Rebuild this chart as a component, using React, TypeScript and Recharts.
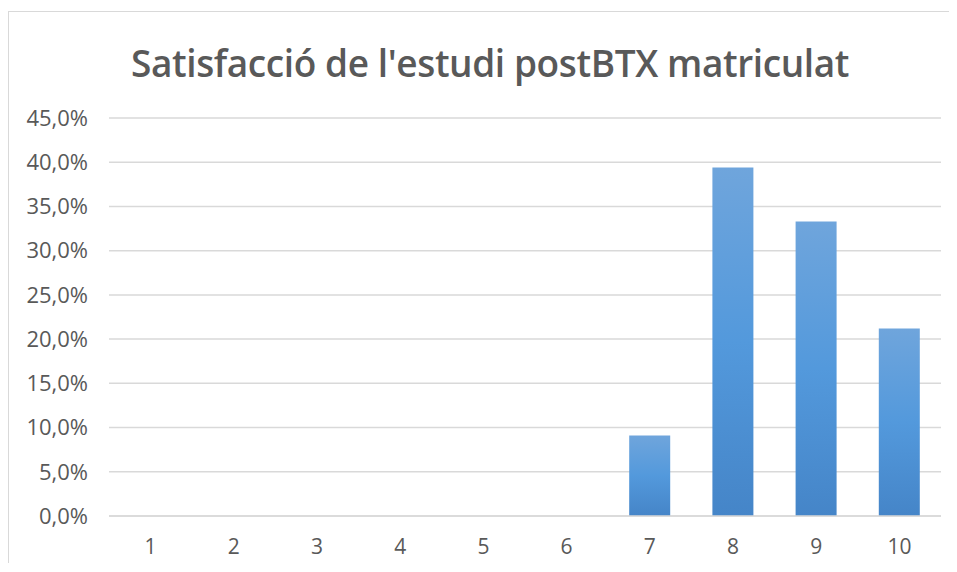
import { BarChart, Bar, XAxis, YAxis, CartesianGrid } from "recharts";

const categories = ["1", "2", "3", "4", "5", "6", "7", "8", "9", "10"];
const percentages = [0, 0, 0, 0, 0, 0, 9.1, 39.4, 33.3, 21.2];
const yTicks = [0, 5, 10, 15, 20, 25, 30, 35, 40, 45];
const title = "Satisfacció de l'estudi postBTX matriculat";

const data = categories.map((name, i) => ({ name, value: percentages[i] }));

const fmt = (v: number) => v.toFixed(1).replace(".", ",") + "%";

const App = () => {
  return (
    <div
      style={{
        position: "relative",
        marginTop: 3,
        width: 940,
        height: 552,
        borderLeft: "1px solid #d9d9d9",
        background: "#fff",
        fontFamily: "'Open Sans', sans-serif",
      }}
    >
      <style>{"html,body{overflow:hidden}"}</style>
      {/* top edge of the frame, running off the right side */}
      <div
        style={{
          position: "absolute",
          left: -1,
          top: 0,
          width: 960,
          height: 1,
          background: "#d9d9d9",
        }}
      />
      <svg width={0} height={0} style={{ position: "absolute" }}>
        <defs>
          <linearGradient id="barFill" x1="0" y1="0" x2="0" y2="1">
            <stop offset="0%" stopColor="#6fa5dc" />
            <stop offset="50%" stopColor="#5399dc" />
            <stop offset="100%" stopColor="#4585c8" />
          </linearGradient>
        </defs>
      </svg>
      <div
        style={{
          position: "absolute",
          left: 0,
          top: 26,
          width: 949,
          boxSizing: "border-box",
          paddingLeft: 13,
          textAlign: "center",
          fontSize: 37,
          fontWeight: 600,
          color: "#595959",
          letterSpacing: -0.4,
          whiteSpace: "nowrap",
        }}
      >
        {title}
      </div>
      <BarChart
        width={940}
        height={552}
        data={data}
        barSize={41}
        margin={{ top: 107, right: 8, bottom: 0, left: 20 }}
      >
        <CartesianGrid vertical={false} stroke="#d9d9d9" strokeWidth={1.5} />
        <XAxis
          dataKey="name"
          stroke="#d9d9d9"
          strokeWidth={1.5}
          tickLine={false}
          tickMargin={17}
          height={47}
          tick={{ fill: "#595959", fontSize: 21 }}
        />
        <YAxis
          ticks={yTicks}
          domain={[0, 45]}
          tickFormatter={fmt}
          axisLine={false}
          tickLine={false}
          tickMargin={15}
          width={80}
          tick={{ fill: "#595959", fontSize: 22 }}
        />
        <Bar dataKey="value" fill="url(#barFill)" isAnimationActive={false} />
      </BarChart>
    </div>
  );
};

export default App;
